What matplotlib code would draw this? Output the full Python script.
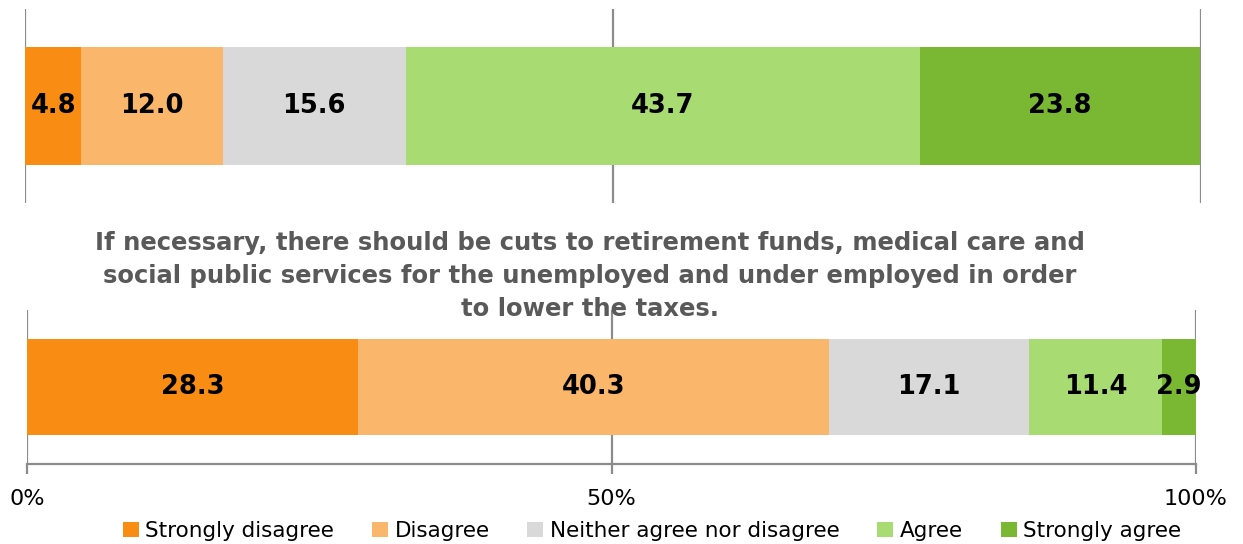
import matplotlib
matplotlib.use("Agg")
import matplotlib.pyplot as plt
from matplotlib.patches import Patch

categories = ["Strongly disagree", "Disagree", "Neither agree nor disagree",
              "Agree", "Strongly agree"]
colors = ["#F98D14", "#FAB66A", "#D9D9D9", "#A8DB72", "#7AB833"]

top_values = [4.8, 12.0, 15.6, 43.7, 23.8]
bottom_values = [28.3, 40.3, 17.1, 11.4, 2.9]
bottom_title = ("If necessary, there should be cuts to retirement funds, medical care and\n"
                "social public services for the unemployed and under employed in order\n"
                "to lower the taxes.")
tick_positions = [0, 50, 100]
tick_labels = ["0%", "50%", "100%"]

W, H = 1243, 544
fig = plt.figure(figsize=(W / 100, H / 100), dpi=100)

GRID = "#8C8C8C"


def px_axes(left, right, top, bottom):
    return fig.add_axes([left / W, 1 - bottom / H, (right - left) / W, (bottom - top) / H])


def draw_bar(ax, values, height):
    left = 0.0
    for v, c in zip(values, colors):
        ax.barh(0, v, left=left, height=height, color=c, edgecolor="none", zorder=2)
        ax.text(left + v / 2, 0, f"{v:.1f}", ha="center", va="center",
                fontsize=18.5, fontweight="bold", color="black", zorder=3)
        left += v
    ax.set_xlim(0, 100)
    ax.set_ylim(-0.5, 0.5)
    ax.set_yticks([])
    for s in ax.spines.values():
        s.set_visible(False)
    for x in tick_positions:
        ax.axvline(x, color=GRID, lw=1.6, zorder=1)


# upper panel
ax1 = px_axes(25, 1201, 9, 203)
draw_bar(ax1, top_values, 0.608)
ax1.set_xticks([])

# lower panel
ax2 = px_axes(27, 1196, 310, 464)
draw_bar(ax2, bottom_values, 0.617)
ax2.spines["bottom"].set_visible(True)
ax2.spines["bottom"].set_color(GRID)
ax2.spines["bottom"].set_linewidth(1.6)
ax2.set_xticks(tick_positions)
ax2.set_xticklabels(tick_labels, fontsize=16, color="black")
ax2.tick_params(axis="x", length=7, width=1.6, color=GRID, pad=11)

fig.text(590 / W, 1 - 276 / H, bottom_title, ha="center", va="center",
         fontsize=17.5, fontweight="bold", color="#595959", linespacing=1.45)

handles = [Patch(facecolor=c, edgecolor="none") for c in colors]
fig.legend(handles, categories, loc="center", bbox_to_anchor=(652 / W, 1 - 531 / H),
           ncol=5, frameon=False, fontsize=15.5, handlelength=0.75, handleheight=0.75,
           handletextpad=0.3, columnspacing=1.75, borderpad=0)

fig.savefig("out.png", dpi=100)
